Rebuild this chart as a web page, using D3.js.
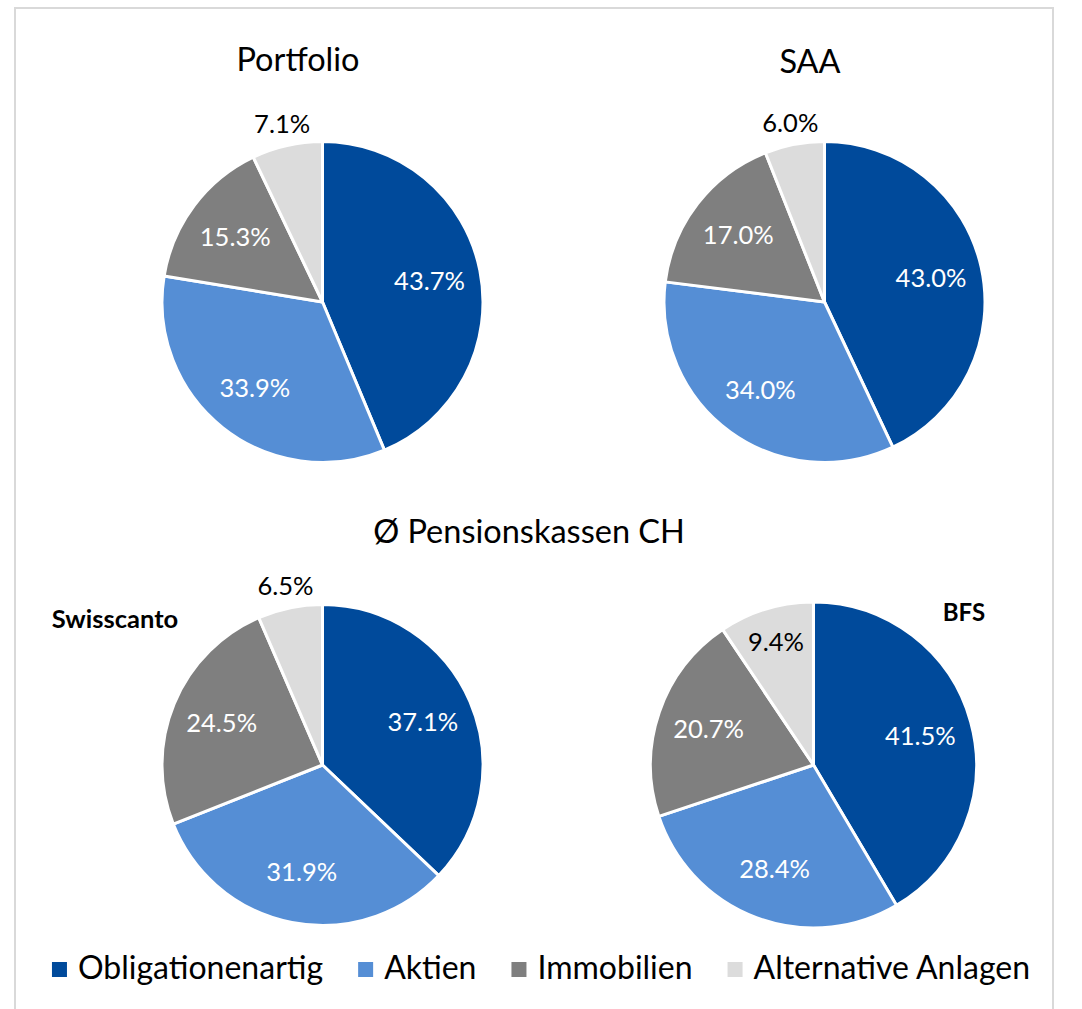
<!DOCTYPE html>
<html><head><meta charset="utf-8">
<script src="https://cdn.jsdelivr.net/npm/d3@7"></script>
<style>html,body{margin:0;padding:0;background:#fff;}svg{display:block;}</style>
</head><body>
<script>
const categories = ["Obligationenartig", "Aktien", "Immobilien", "Alternative Anlagen"];
const portfolioValues = [43.7, 33.9, 15.3, 7.1];
const saaValues = [43.0, 34.0, 17.0, 6.0];
const swisscantoValues = [37.1, 31.9, 24.5, 6.5];
const bfsValues = [41.5, 28.4, 20.7, 9.4];
const chartTitles = ["Portfolio", "SAA", "Ø Pensionskassen CH"];
const sourceLabels = ["Swisscanto", "BFS"];

const W = 1082, H = 1009;
const FONT = "Lato, 'Open Sans', sans-serif";
const colors = d3.scaleOrdinal().domain(categories).range(["#004A9B", "#558ED5", "#7F7F7F", "#DCDCDC"]);
const labelColor = d3.scaleOrdinal().domain(categories).range(["#fff", "#fff", "#fff", "#000"]);

const svg = d3.select("body").append("svg").attr("width", W).attr("height", H);
svg.append("rect").attr("x", 15).attr("y", 8).attr("width", 1038).attr("height", 1010)
  .attr("fill", "#fff").attr("stroke", "#D9D9D9").attr("stroke-width", 2);

const panels = [
  {values: portfolioValues, cx: 322.5, cy: 302, r: 160.5},
  {values: saaValues, cx: 824.5, cy: 302, r: 160.5},
  {values: swisscantoValues, cx: 322.5, cy: 765, r: 160.5},
  {values: bfsValues, cx: 813.5, cy: 765, r: 163}
];

const pie = d3.pie().sort(null).value(d => d.v);

panels.forEach(p => {
  const data = pie(categories.map((c, i) => ({c, v: p.values[i]})));
  const g = svg.append("g").attr("transform", `translate(${p.cx},${p.cy})`);
  const arc = d3.arc().innerRadius(0).outerRadius(p.r);
  g.selectAll("path").data(data).join("path")
    .attr("d", arc)
    .attr("fill", d => colors(d.data.c))
    .attr("stroke", "#fff").attr("stroke-width", 3).attr("stroke-linejoin", "round");
  g.selectAll("text").data(data).join("text")
    .each(function(d) {
      const outside = d.data.v < 8;
      const rr = outside ? p.r + 22 : (d.data.v < 12 ? p.r * 0.79 : p.r * 0.68);
      const a = (d.startAngle + d.endAngle) / 2;
      d3.select(this)
        .attr("x", Math.sin(a) * rr)
        .attr("y", -Math.cos(a) * rr)
        .attr("fill", outside ? "#000" : labelColor(d.data.c));
    })
    .attr("text-anchor", "middle").attr("dy", "0.36em")
    .attr("font-family", FONT).attr("font-size", 25.5)
    .text(d => d.data.v.toFixed(1) + "%");
});

// titles
const titlePos = [[298, 71], [810, 73], [529, 543]];
chartTitles.forEach((t, i) => {
  svg.append("text").attr("x", titlePos[i][0]).attr("y", titlePos[i][1])
    .attr("text-anchor", "middle").attr("font-family", FONT).attr("font-size", 32.5)
    .attr("fill", "#000").text(t);
});
const srcPos = [[115, 628], [964, 621]];
sourceLabels.forEach((t, i) => {
  svg.append("text").attr("x", srcPos[i][0]).attr("y", srcPos[i][1])
    .attr("text-anchor", "middle").attr("font-family", FONT).attr("font-weight", "bold")
    .attr("font-size", i === 0 ? 25.5 : 24).attr("fill", "#000").text(t);
});

// legend
const lg = svg.append("g");
let x = 0;
categories.forEach((c, i) => {
  const item = lg.append("g").attr("transform", `translate(${x},0)`);
  item.append("rect").attr("x", 0).attr("y", -17).attr("width", 15).attr("height", 15).attr("fill", colors(c));
  const t = item.append("text").attr("x", 26).attr("y", 0).attr("font-family", FONT).attr("font-size", 32).attr("fill", "#000").text(c);
  x += 26 + t.node().getComputedTextLength() + 35;
});
const total = x - 35;
lg.attr("transform", `translate(${541 - total / 2},979)`);
</script>
</body></html>
